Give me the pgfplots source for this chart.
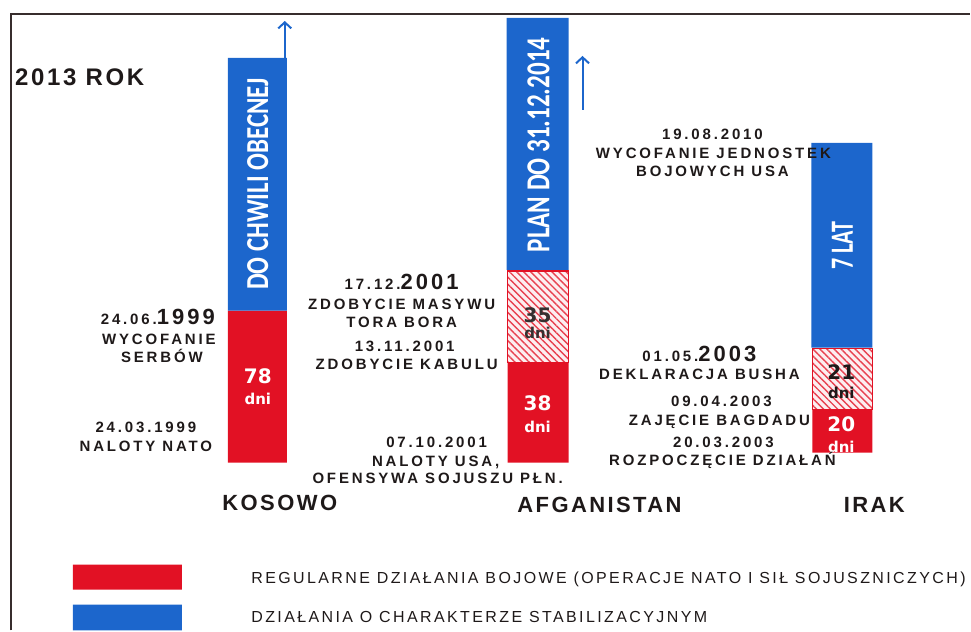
\documentclass[border=0pt]{standalone}
\usepackage{pgfplots}
\pgfplotsset{compat=1.18}
\usepackage{fontspec}
\setmainfont{Liberation Sans}
\newfontfamily\ls[LetterSpace=19]{Liberation Sans}
\newfontfamily\lsy[LetterSpace=14]{Liberation Sans}
\newfontfamily\lsc[LetterSpace=11]{Liberation Sans}
\newfontfamily\lsl[LetterSpace=15]{Liberation Sans}
\newfontfamily\cond{Carlito}
\newfontfamily\dv{DejaVu Sans}
\usetikzlibrary{arrows.meta,patterns.meta}
\definecolor{cred}{RGB}{226,17,36}
\definecolor{cblue}{RGB}{28,102,204}
\definecolor{cframe}{RGB}{55,45,45}
\definecolor{ctxt}{RGB}{30,25,25}
\newcommand\lab{\fontsize{15}{16}\selectfont\ls\bfseries}
\newcommand\yr{\fontsize{22}{22}\selectfont\lsy\bfseries}
\newcommand\num{\fontsize{20}{22}\selectfont\dv\bfseries}
\newcommand\dni{\fontsize{15}{16}\selectfont\dv\bfseries}
\begin{document}
\begin{tikzpicture}
\begin{axis}[width=971pt, height=631pt, scale only axis,
  xmin=0, xmax=971, ymin=0, ymax=631, y dir=reverse,
  hide axis, clip=false]
% bounding area
\addplot[draw=none] coordinates {(0,0) (971,631)};
% frame
\addplot[cframe, line width=1.6pt] coordinates {(11,631) (11,14) (971,14)};
% KOSOWO
\addplot[fill=cred, draw=none] coordinates {(228,463) (287,463) (287,311) (228,311) (228,463)};
\addplot[fill=cblue, draw=none] coordinates {(228,311) (287,311) (287,58) (228,58) (228,311)};
\addplot[cblue, line width=2pt, -{Straight Barb[length=6pt,width=13pt]}] coordinates {(285,58) (285,21)};
% AFGANISTAN
\addplot[fill=cred, draw=none] coordinates {(508,463) (569,463) (569,363) (508,363) (508,463)};
\addplot[fill=cred!7, draw=none] coordinates {(508,363) (569,363) (569,271) (508,271) (508,363)};
\addplot[pattern={Lines[angle=-45,distance=5pt,line width=1.4pt]}, pattern color=cred!80, draw=cred, line width=1.5pt] coordinates {(508,363) (569,363) (569,271) (508,271) (508,363)};
\addplot[fill=cblue, draw=none] coordinates {(507,270) (569,270) (569,18) (507,18) (507,270)};
\addplot[cblue, line width=2pt, -{Straight Barb[length=6pt,width=13pt]}] coordinates {(583,110) (583,56)};
% IRAK
\addplot[fill=cred, draw=none] coordinates {(813,453) (873,453) (873,410) (813,410) (813,453)};
\addplot[fill=cred!7, draw=none] coordinates {(813,410) (873,410) (873,349) (813,349) (813,410)};
\addplot[pattern={Lines[angle=-45,distance=5pt,line width=1.4pt]}, pattern color=cred!80, draw=cred, line width=1.5pt] coordinates {(813,410) (873,410) (873,349) (813,349) (813,410)};
\addplot[fill=cblue, draw=none] coordinates {(812,348) (873,348) (873,143) (812,143) (812,348)};
% legend swatches
\addplot[fill=cred, draw=none] coordinates {(73,590) (182,590) (182,565) (73,565) (73,590)};
\addplot[fill=cblue, draw=none] coordinates {(73,631) (182,631) (182,605) (73,605) (73,631)};

% bar texts
\node[white, rotate=90] at (axis cs:258,184) {\cond\bfseries\resizebox{212pt}{21pt}{DO CHWILI OBECNEJ}};
\node[white, rotate=90] at (axis cs:539,145) {\cond\bfseries\resizebox{215pt}{22pt}{PLAN DO 31.12.2014}};
\node[white, rotate=90] at (axis cs:843,246) {\cond\bfseries\resizebox{48pt}{21pt}{7 LAT}};
\node[white] at (axis cs:258,377) {\num 78};
\node[white] at (axis cs:258,399) {\dni dni};
\node[ctxt!90] at (axis cs:538,315) {\num 35};
\node[ctxt!90] at (axis cs:538,333) {\dni dni};
\node[white] at (axis cs:538,404) {\num 38};
\node[white] at (axis cs:538,427) {\dni dni};
\node[ctxt] at (axis cs:842,372) {\num 21};
\node[ctxt] at (axis cs:842,393) {\dni dni};
\node[white] at (axis cs:842,425) {\num 20};
\node[white] at (axis cs:842,447) {\dni dni};

% labels
\node[ctxt, anchor=base west, inner sep=0pt] at (axis cs:15,86) {\fontsize{24}{24}\selectfont\lsc\bfseries 2013 ROK};
\node[ctxt, anchor=base] at (axis cs:158,325) {\lab 24.06.{\yr 1999}};
\node[ctxt, anchor=base] at (axis cs:159,345) {\lab WYCOFANIE};
\node[ctxt, anchor=base] at (axis cs:162,363) {\lab SERBÓW};
\node[ctxt, anchor=base] at (axis cs:146,433) {\lab 24.03.1999};
\node[ctxt, anchor=base] at (axis cs:146,452) {\lab NALOTY NATO};

\node[ctxt, anchor=base] at (axis cs:402,290) {\lab 17.12.{\yr 2001}};
\node[ctxt, anchor=base] at (axis cs:402,310) {\lab ZDOBYCIE MASYWU};
\node[ctxt, anchor=base] at (axis cs:402,328) {\lab TORA BORA};
\node[ctxt, anchor=base] at (axis cs:405,352) {\lab 13.11.2001};
\node[ctxt, anchor=base] at (axis cs:407,370) {\lab ZDOBYCIE KABULU};
\node[ctxt, anchor=base] at (axis cs:437,448) {\lab 07.10.2001};
\node[ctxt, anchor=base] at (axis cs:436,467) {\lab NALOTY USA,};
\node[ctxt, anchor=base] at (axis cs:438,484) {\lab OFENSYWA SOJUSZU PŁN.};

\node[ctxt, anchor=base] at (axis cs:713,140) {\lab 19.08.2010};
\node[ctxt, anchor=base] at (axis cs:714,159) {\lab WYCOFANIE JEDNOSTEK};
\node[ctxt, anchor=base] at (axis cs:713,177) {\lab BOJOWYCH USA};
\node[ctxt, anchor=base] at (axis cs:700,362) {\lab 01.05.{\yr 2003}};
\node[ctxt, anchor=base] at (axis cs:700,380) {\lab DEKLARACJA BUSHA};
\node[ctxt, anchor=base] at (axis cs:722,407) {\lab 09.04.2003};
\node[ctxt, anchor=base] at (axis cs:720,426) {\lab ZAJĘCIE BAGDADU};
\node[ctxt, anchor=base] at (axis cs:724,448) {\lab 20.03.2003};
\node[ctxt, anchor=base] at (axis cs:723,466) {\lab ROZPOCZĘCIE DZIAŁAŃ};

% categories
\node[ctxt, anchor=base] at (axis cs:280,511) {\fontsize{22}{22}\selectfont\lsc\bfseries KOSOWO};
\node[ctxt, anchor=base] at (axis cs:600,513) {\fontsize{22}{22}\selectfont\lsc\bfseries AFGANISTAN};
\node[ctxt, anchor=base] at (axis cs:875,513) {\fontsize{22}{22}\selectfont\lsc\bfseries IRAK};

% legend text
\node[ctxt, anchor=base west] at (axis cs:248,584) {\fontsize{16}{18}\selectfont\lsl REGULARNE DZIAŁANIA BOJOWE (OPERACJE NATO I SIŁ SOJUSZNICZYCH)};
\node[ctxt, anchor=base west] at (axis cs:248,623) {\fontsize{16}{18}\selectfont\lsl DZIAŁANIA O CHARAKTERZE STABILIZACYJNYM};
\end{axis}
\end{tikzpicture}
\end{document}
